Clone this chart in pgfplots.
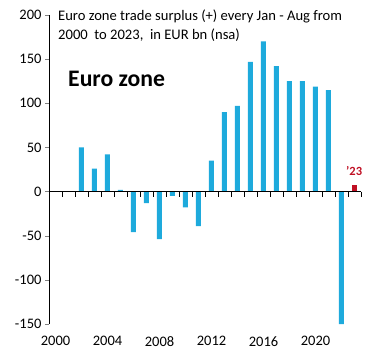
\documentclass[border=0pt]{standalone}
\usepackage{pgfplots}
\pgfplotsset{compat=1.18}
\usepackage{fontspec}
\setmainfont{Carlito}
\definecolor{barblue}{RGB}{30,170,220}
\definecolor{barred}{RGB}{192,16,36}
\begin{document}
\begin{tikzpicture}
\useasboundingbox (0pt,0pt) rectangle (384pt,360pt);
\begin{axis}[
 at={(49pt,36pt)}, anchor=south west,
 scale only axis, width=312pt, height=309pt,
 xmin=1999.5, xmax=2023.5, ymin=-150, ymax=200,
 axis y line*=left, axis x line*=bottom,
 x axis line style={draw=none},
 xtick={2000,2004,2008,2012,2016,2020},
 xticklabels={2000,2004,2008,2012,2016,2020},
 x tick style={draw=none},
 xticklabel style={yshift=-5pt},
 ytick={-150,-100,-50,0,50,100,150,200},
 yticklabels={-150,-100,-50,0,50,100,150,200},
 tick align=outside, major tick length=4pt,
 ticklabel style={font=\fontsize{14.5}{14.5}\selectfont},
 clip=false,
]
\addplot[ybar, bar width=5pt, fill=barblue, draw=none] coordinates {
(2002,50) (2003,26) (2004,42) (2005,2) (2006,-46) (2007,-13) (2008,-54)
(2009,-5) (2010,-18) (2011,-39) (2012,35) (2013,90) (2014,97) (2015,147)
(2016,170) (2017,142) (2018,125) (2019,125) (2020,119) (2021,115) (2022,-150)
};
\addplot[ybar, bar width=5pt, fill=barred, draw=none] coordinates {(2023,8)};
\draw[black] (axis cs:1999.5,0) -- (axis cs:2023.5,0);
\pgfplotsinvokeforeach{2000.5,2001.5,2002.5,2003.5,2004.5,2005.5,2006.5,2007.5,2008.5,2009.5,2010.5,2011.5,2012.5,2013.5,2014.5,2015.5,2016.5,2017.5,2018.5,2019.5,2020.5,2021.5,2022.5,2023.5}{
 \draw[black] (axis cs:#1,0) -- (axis cs:#1,-5.7);
}
\end{axis}
\node[anchor=base west, font=\fontsize{14.6}{14.6}\selectfont, inner sep=0] at (58pt,340pt) {Euro zone trade surplus (+) every Jan - Aug from};
\node[anchor=base west, font=\fontsize{14.6}{14.6}\selectfont, inner sep=0] at (58pt,320pt) {2000\ \ to 2023,\ \ in EUR bn (nsa)};
\node[anchor=base west, font=\bfseries\fontsize{23.7}{23.7}\selectfont, inner sep=0] at (68pt,274pt) {Euro zone};
\node[anchor=base west, font=\bfseries\fontsize{12.5}{12.5}\selectfont, text=barred, inner sep=0] at (346pt,185pt) {'23};
\end{tikzpicture}
\end{document}
